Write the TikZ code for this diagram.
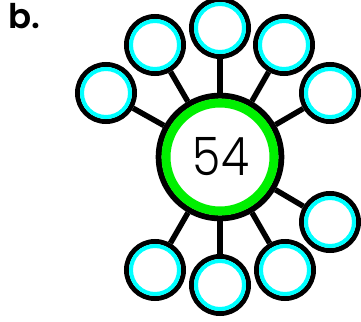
\documentclass[tikz,border=0pt]{standalone}
\usepackage{fontspec}
\setmainfont{Poppins}
\newfontfamily\lightfont{Poppins}[UprightFont=* Light]
\newfontfamily\boldfont{Poppins}[UprightFont=* SemiBold]
\definecolor{ringgreen}{RGB}{0,240,0}
\definecolor{ringcyan}{RGB}{0,255,255}
\begin{document}
\begin{tikzpicture}[x=1pt,y=-1pt,
  hub/.style={circle, draw=black, line width=6pt, fill=white, minimum size=122.6pt, inner sep=0pt},
  leaf/.style={circle, draw=black, line width=5pt, fill=white, minimum size=57pt, inner sep=0pt},
  link/.style={line width=5.5pt, black},
  greenring/.style={draw=ringgreen, line width=9pt},
  cyanring/.style={draw=ringcyan, line width=4pt}]
\useasboundingbox (0,0) rectangle (361,321);
\node[anchor=base west, inner sep=0pt, font=\boldfont\fontsize{34}{34}\selectfont] (lbl) at (8,29) {b.};
\node[hub] (c) at (220,157) {};
\foreach \n/\x/\y in {t/220/28, l2/155/45, l1/106/93, r2/284/45, r1/330/93, rl/330/222, br/285/270, b/220/285, bl/155/270}{
  \node[leaf] (\n) at (\x,\y) {};
  \draw[cyanring] (\n.center) circle (24pt);
  \draw[link] (c) -- (\n);
}
\draw[greenring] (c.center) circle (54pt);
\node[inner sep=0pt, anchor=base, font=\lightfont\fontsize{53}{53}\selectfont] (num) at (221,175) {\scalebox{0.86}[1]{54}};
\end{tikzpicture}
\end{document}
